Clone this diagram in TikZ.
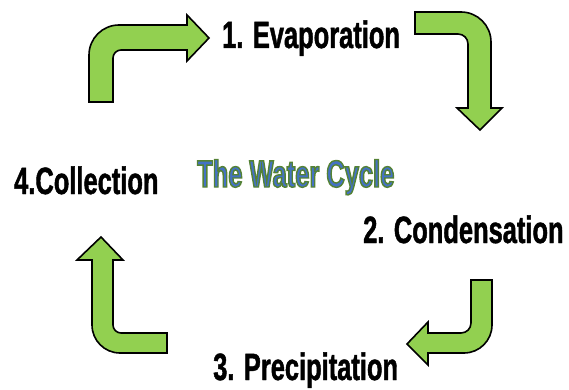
\documentclass[tikz,border=0pt]{standalone}
\usepackage{fontspec}
\setmainfont{Liberation Sans}
\newfontfamily\labelfont[FakeStretch=0.67,FakeBold=1.2]{Liberation Sans Bold}
\newfontfamily\titlefont[FakeStretch=0.67]{Liberation Sans Bold}
\definecolor{arrowgreen}{HTML}{92D050}
\definecolor{titleblue}{HTML}{4472C4}
\definecolor{titlegreen}{HTML}{548235}
\newcommand{\outlinedtext}[1]{\textcolor{titleblue}{\special{pdf:literal 0.329 0.51 0.208 RG 2 Tr 1.4 w}#1\special{pdf:literal 0 Tr}}}
\tikzset{
  bentarrow/.style={fill=arrowgreen, draw=black, line width=1.6pt, line join=miter},
  steplabel/.style={inner sep=0pt, anchor=base west, font=\labelfont\fontsize{38}{44}\selectfont},
  titlelabel/.style={inner sep=0pt, anchor=base west, font=\titlefont\fontsize{38}{44}\selectfont},
}
\begin{document}
\begin{tikzpicture}[x=1pt,y=-1pt]
\useasboundingbox (0,0) rectangle (569,390);
% arrow 1 (top-left, pointing right)
\draw[bentarrow] (89,102) -- (89,55) arc[start angle=180, end angle=270, radius=30] -- (187,25) -- (187,15) -- (209,38) -- (187,61) -- (187,50) -- (121,50) arc[start angle=270, end angle=180, radius=8] -- (113,102) -- cycle;
% arrow 2 (top-right, pointing down)
\draw[bentarrow] (415,12) -- (461,12) arc[start angle=270, end angle=360, radius=30] -- (491,108) -- (502,108) -- (480,130) -- (457,108) -- (468,108) -- (468,44) arc[start angle=0, end angle=-90, radius=10] -- (415,34) -- cycle;
% arrow 3 (bottom-right, pointing left)
\draw[bentarrow] (471,280) -- (492,280) -- (492,325) arc[start angle=0, end angle=90, radius=28] -- (428,353) -- (428,365) -- (407,344) -- (428,322) -- (428,333) -- (461,333) arc[start angle=90, end angle=0, radius=10] -- (471,280) -- cycle;
% arrow 4 (bottom-left, pointing up)
\draw[bentarrow] (113,260) -- (113,325) arc[start angle=180, end angle=90, radius=8] -- (167,333) -- (167,353) -- (120,353) arc[start angle=90, end angle=180, radius=28] -- (92,260) -- (77,260) -- (101,237) -- (123,260) -- cycle;
% labels
\node[steplabel] (evap) at (222,48) {1. Evaporation};
\node[steplabel] (cond) at (363,243) {2. Condensation};
\node[steplabel] (prec) at (213,380) {3. Precipitation};
\node[steplabel] (coll) at (14,194) {4.Collection};
\node[titlelabel] (title) at (197,187) {\outlinedtext{The Water Cycle}};
\end{tikzpicture}
\end{document}
